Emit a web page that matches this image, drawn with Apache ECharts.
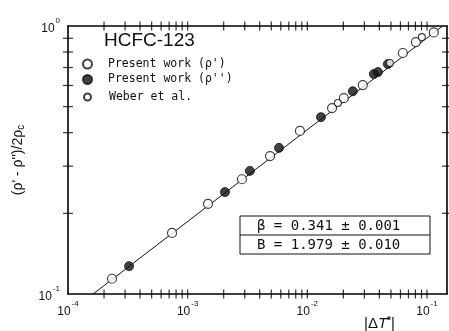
<!DOCTYPE html>
<html>
<head>
<meta charset="utf-8">
<script src="https://cdn.jsdelivr.net/npm/echarts@6/dist/echarts.min.js"></script>
<style>html,body{margin:0;padding:0;background:#fff}#c{width:449px;height:331px}</style>
</head>
<body>
<div id="c"></div>
<script>
// |ΔT*| vs (ρ'-ρ'')/2ρc
const liquidX = [2.33e-4, 7.4e-4, 1.48e-3, 2.84e-3, 4.88e-3, 8.67e-3, 0.0161, 0.0202, 0.0291, 0.0629, 0.0808, 0.114];
const liquidY = [0.114, 0.169, 0.217, 0.268, 0.327, 0.406, 0.494, 0.538, 0.602, 0.793, 0.871, 0.946];
const vaporX = [3.24e-4, 2.05e-3, 3.31e-3, 5.80e-3, 0.0130, 0.0240, 0.0360, 0.0389, 0.0471];
const vaporY = [0.127, 0.240, 0.288, 0.351, 0.457, 0.571, 0.662, 0.673, 0.721];
const weberX = [0.0180, 0.0490, 0.0906];
const weberY = [0.516, 0.728, 0.909];
const fitLine = [[1.62e-4, 0.1], [0.135, 1.0]];
const xMinorTicks = [2e-4,3e-4,4e-4,5e-4,6e-4,7e-4,8e-4,9e-4,2e-3,3e-3,4e-3,5e-3,6e-3,7e-3,8e-3,9e-3,2e-2,3e-2,4e-2,5e-2,6e-2,7e-2,8e-2,9e-2];
const xMajorTicks = [1e-3, 1e-2, 1e-1];
const yMinorTicks = [0.2,0.3,0.4,0.5,0.6,0.7,0.8,0.9];
const X_MIN = 1e-4, X_MAX = 0.147, Y_MIN = 0.1, Y_MAX = 1;

const zip = (a, b) => a.map((v, i) => [v, b[i]]);
const chart = echarts.init(document.getElementById('c'));
const FONT = 'Liberation Sans';
const MONO = 'DejaVu Sans Mono';
const expFmt = v => {
  const e = Math.round(Math.log10(v));
  return '{b|10}{s|' + e + '}';
};
const labelRich = {
  b: {fontSize: 12, fontFamily: FONT, color: '#111', verticalAlign: 'bottom', lineHeight: 18},
  s: {fontSize: 8, fontFamily: FONT, color: '#111', verticalAlign: 'top', padding: [0, 0, 8, 1]}
};
const axisLine = {show: true, lineStyle: {color: '#000', width: 1.6}};

chart.setOption({
  animation: false,
  backgroundColor: '#fff',
  grid: {left: 68, top: 26, right: 2, bottom: 37},
  xAxis: [
    {type: 'log', logBase: 10, min: X_MIN, max: X_MAX, position: 'bottom',
     axisLine, axisTick: {show: false}, splitLine: {show: false},
     axisLabel: {formatter: expFmt, rich: labelRich, margin: 6, showMaxLabel: false}},
    {type: 'log', logBase: 10, min: X_MIN, max: X_MAX, position: 'top',
     axisLine, axisTick: {show: false}, splitLine: {show: false}, axisLabel: {show: false}}
  ],
  yAxis: [
    {type: 'log', logBase: 10, min: Y_MIN, max: Y_MAX, position: 'left',
     axisLine, axisTick: {show: false}, splitLine: {show: false},
     axisLabel: {formatter: expFmt, rich: labelRich, margin: 8},
     name: "{a|(ρ' - ρ'')/2ρ}{c|c}", nameLocation: 'middle', nameGap: 42, nameRotate: 90,
     nameTextStyle: {rich: {
       a: {fontSize: 14, fontFamily: FONT, color: '#111'},
       c: {fontSize: 10, fontFamily: FONT, color: '#111', verticalAlign: 'bottom', padding: [6, 0, 0, 0]}
     }}},
    {type: 'log', logBase: 10, min: Y_MIN, max: Y_MAX, position: 'right',
     axisLine, axisTick: {show: false}, splitLine: {show: false}, axisLabel: {show: false}}
  ],
  legend: [
    {orient: 'vertical', left: 82, top: 58, padding: 0, itemWidth: 9, itemHeight: 9, itemGap: 3.5,
     data: ["Present work (ρ')", "Present work (ρ'')"],
     textStyle: {fontFamily: MONO, fontSize: 11.5, color: '#111', padding: [0, 0, 0, 11]}},
    {orient: 'vertical', left: 83, top: 91, padding: 0, itemWidth: 7, itemHeight: 7,
     data: ['Weber et al.'],
     textStyle: {fontFamily: MONO, fontSize: 11.5, color: '#111', padding: [0, 0, 0, 13]}}
  ],
  graphic: [
    {type: 'text', left: 104, top: 31, style: {text: 'HCFC-123', font: '19px "Liberation Sans"', fill: '#111'}},
    {type: 'rect', shape: {x: 240, y: 216, width: 190, height: 38}, style: {fill: '#fff', stroke: '#111', lineWidth: 1}},
    {type: 'line', shape: {x1: 240, y1: 235, x2: 430, y2: 235}, style: {stroke: '#111', lineWidth: 1}},
    {type: 'text', x: 257, y: 226, style: {text: 'β = 0.341 ± 0.001', font: '14px "DejaVu Sans Mono"', fill: '#111', verticalAlign: 'middle'}},
    {type: 'text', x: 257, y: 245, style: {text: 'B = 1.979 ± 0.010', font: '14px "DejaVu Sans Mono"', fill: '#111', verticalAlign: 'middle'}},
    {type: 'text', x: 364, y: 316, style: {
      text: '{a||Δ}{i|T}{s|*}{a||}', rich: {
        a: {font: '15px "Liberation Sans"', fill: '#111'},
        i: {font: 'italic 15px "Liberation Sans"', fill: '#111'},
        s: {font: 'bold 10px "Liberation Sans"', fill: '#111', verticalAlign: 'top', padding: [0, 0, 6, 0]}
      }}}
  ],
  series: [
    {type: 'line', data: fitLine, symbol: 'none', lineStyle: {color: '#111', width: 1}, z: 2, silent: true},
    {name: "Present work (ρ')", type: 'scatter', data: zip(liquidX, liquidY), symbol: 'circle', symbolSize: 9,
     itemStyle: {color: '#fff', borderColor: '#111', borderWidth: 1.2}, z: 3},
    {name: "Present work (ρ'')", type: 'scatter', data: zip(vaporX, vaporY), symbol: 'circle', symbolSize: 9,
     itemStyle: {color: '#111', borderColor: '#111', borderWidth: 1}, z: 4},
    {name: 'Weber et al.', type: 'scatter', data: zip(weberX, weberY), symbol: 'circle', symbolSize: 7,
     itemStyle: {color: '#fff', borderColor: '#111', borderWidth: 1.1}, z: 5},
    {type: 'scatter', silent: true, clip: false, z: 6,
     data: xMinorTicks.map(v => [v, Y_MIN]).concat(xMajorTicks.map(v => [v, Y_MIN])),
     symbol: 'rect', symbolSize: [1.2, 9], itemStyle: {color: '#000'}},
    {type: 'scatter', silent: true, clip: false, z: 6,
     data: xMinorTicks.map(v => [v, Y_MAX]).concat(xMajorTicks.map(v => [v, Y_MAX])),
     symbol: 'rect', symbolSize: [1.2, 9], itemStyle: {color: '#000'}},
    {type: 'scatter', silent: true, clip: false, z: 6,
     data: yMinorTicks.map(v => [X_MIN, v]).concat(yMinorTicks.map(v => [X_MAX, v])),
     symbol: 'rect', symbolSize: [10, 1.2], itemStyle: {color: '#000'}}
  ]
});
</script>
</body>
</html>
